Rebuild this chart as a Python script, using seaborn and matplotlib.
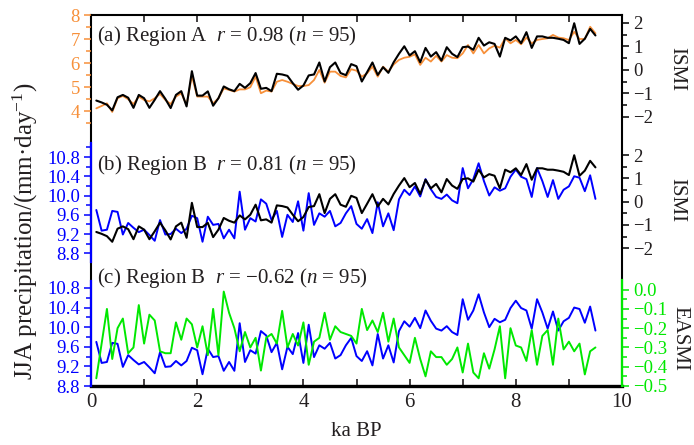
import numpy as np
import matplotlib
matplotlib.use("Agg")
import matplotlib.pyplot as plt
from matplotlib.ticker import FuncFormatter
import seaborn as sns

# ---- data: 95 samples, 0.1 to 9.5 ka BP ----
age = np.arange(1, 96) / 10.0

precip_a = [4.11, 4.21, 4.32, 3.96, 4.53, 4.63, 4.49, 4.29, 4.60, 4.46,
            4.40, 4.53, 4.71, 4.46, 4.29, 4.60, 4.74, 4.25, 5.46, 4.60,
            4.60, 4.60, 4.32, 4.53, 4.94, 4.88, 4.81, 4.90, 4.90, 4.99,
            5.43, 4.74, 4.85, 4.81, 5.22, 5.29, 5.22, 5.13, 5.04, 5.04,
            5.08, 5.29, 5.71, 5.18, 5.64, 5.64, 5.46, 5.40, 5.74, 5.68,
            5.43, 5.57, 5.85, 5.43, 5.85, 5.64, 5.94, 6.13, 6.22, 6.26,
            6.36, 5.92, 6.22, 6.06, 6.30, 6.06, 6.33, 6.22, 6.20, 6.40,
            6.75, 6.40, 6.75, 6.40, 6.61, 6.72, 6.64, 7.03, 6.82, 6.96,
            6.78, 7.06, 6.82, 6.96, 7.00, 7.03, 7.17, 7.06, 7.03, 6.96,
            7.30, 7.00, 7.00, 7.51, 7.24]

ismi = [-1.30, -1.38, -1.48, -1.72, -1.16, -1.06, -1.18, -1.61, -1.06, -1.20,
        -1.61, -1.27, -0.90, -1.23, -1.62, -1.06, -0.90, -1.55, -0.05, -1.09,
        -1.09, -0.91, -1.52, -1.20, -0.70, -0.82, -0.90, -0.59, -0.76, -0.56,
        -0.13, -0.80, -0.76, -0.90, -0.16, -0.19, -0.25, -0.56, -0.84, -0.66,
        -0.23, -0.19, 0.32, -0.49, 0.12, 0.32, -0.13, -0.22, 0.25, 0.16,
        -0.49, -0.09, 0.32, -0.21, 0.12, -0.12, 0.33, 0.69, 1.01, 0.62,
        0.80, 0.33, 0.94, 0.57, 0.76, 0.40, 0.97, 0.69, 0.55, 0.97,
        1.00, 0.86, 1.37, 1.04, 1.18, 1.11, 0.57, 1.37, 1.26, 1.43,
        1.14, 1.61, 0.94, 1.43, 1.43, 1.37, 1.37, 1.33, 1.28, 1.14,
        1.99, 1.11, 1.33, 1.75, 1.47]

precip_b = [9.70, 9.27, 9.29, 9.68, 9.66, 9.19, 9.43, 9.33, 9.24, 9.29,
            9.18, 9.06, 9.49, 9.19, 9.20, 9.31, 9.22, 9.31, 9.58, 9.53,
            9.04, 9.56, 9.39, 9.41, 9.11, 9.29, 9.11, 10.08, 9.29, 9.53,
            9.46, 9.92, 9.83, 9.49, 9.68, 9.14, 9.60, 9.45, 9.88, 9.27,
            10.05, 9.39, 9.63, 9.56, 9.68, 9.36, 9.43, 9.63, 9.78, 9.41,
            9.31, 9.51, 9.22, 9.86, 9.36, 9.63, 9.28, 9.92, 10.12, 10.01,
            10.19, 9.98, 10.34, 10.13, 9.97, 9.93, 10.02, 9.90, 9.84, 10.57,
            10.15, 10.34, 10.67, 10.30, 10.00, 10.17, 10.10, 10.15, 10.39, 10.54,
            10.39, 10.34, 9.97, 10.57, 10.30, 9.97, 10.32, 9.93, 10.12, 10.19,
            10.40, 10.37, 10.09, 10.42, 9.93]

easmi = [-0.46, -0.28, -0.10, -0.36, -0.20, -0.15, -0.33, -0.30, -0.08, -0.28,
         -0.13, -0.16, -0.32, -0.33, -0.33, -0.17, -0.26, -0.15, -0.18, -0.30,
         -0.19, -0.34, -0.10, -0.34, -0.01, -0.12, -0.20, -0.32, -0.22, -0.30,
         -0.25, -0.42, -0.25, -0.23, -0.28, -0.11, -0.30, -0.23, -0.29, -0.17,
         -0.39, -0.27, -0.25, -0.12, -0.26, -0.19, -0.22, -0.23, -0.24, -0.28,
         -0.10, -0.21, -0.16, -0.22, -0.12, -0.27, -0.15, -0.30, -0.34, -0.38,
         -0.25, -0.36, -0.45, -0.32, -0.35, -0.35, -0.39, -0.36, -0.30, -0.43,
         -0.28, -0.43, -0.46, -0.33, -0.41, -0.31, -0.19, -0.46, -0.20, -0.29,
         -0.30, -0.37, -0.21, -0.39, -0.24, -0.21, -0.39, -0.15, -0.31, -0.27,
         -0.32, -0.28, -0.44, -0.32, -0.30]

panel_titles = ["(a) Region A  $r$ = 0.98 ($n$ = 95)",
                "(b) Region B  $r$ = 0.81 ($n$ = 95)",
                "(c) Region B  $r$ = \u22120.62 ($n$ = 95)"]

# ---- style ----
sns.set_style("ticks")
plt.rcParams.update({
    "font.family": ["Liberation Serif", "DejaVu Serif"],
    "mathtext.fontset": "custom",
    "mathtext.rm": "Liberation Serif",
    "mathtext.it": "Liberation Serif:italic",
    "axes.unicode_minus": True,
})

TXT = "#231F20"
ORANGE = "#F7903A"
BLUE = "#0000FF"
GREEN = "#00E800"

W, H = 694, 445
fig = plt.figure(figsize=(W / 100, H / 100), dpi=100)

# frame in pixel units
X0, X1, YT, YB = 91, 622, 15, 386
rect = [X0 / W, 1 - YB / H, (X1 - X0) / W, (YB - YT) / H]


def lim_from(v_hi, y_hi, v_lo, y_lo):
    """y-limits so that value v_hi sits at pixel row y_hi and v_lo at y_lo."""
    per_px = (v_hi - v_lo) / (y_lo - y_hi)
    return v_lo - (YB - y_lo) * per_px, v_hi + (y_hi - YT) * per_px


def signed(fmt):
    return FuncFormatter(lambda v, _: (fmt % (0.0 if abs(v) < 1e-9 else v)).replace("-", "\u2212"))


base = fig.add_axes(rect)
base.set_xlim(0, 10)
base.set_yticks([])
base.set_xticks(range(0, 11, 2))
base.set_xticks(range(1, 11, 2), minor=True)
base.tick_params(axis="x", which="both", direction="in", top=True, bottom=True,
                 length=5, width=1.2, colors=TXT, labelsize=15, pad=5)
for side, lw in (("top", 1.5), ("bottom", 2.4), ("left", 1.5), ("right", 1.5)):
    base.spines[side].set_linewidth(lw)
    base.spines[side].set_color("black")


def overlay(side, lims, tick_color, label_color, major, minor, fmt,
            spine_color=None, bounds=None):
    ax = fig.add_axes(rect, sharex=base)
    ax.patch.set_visible(False)
    for s in ax.spines.values():
        s.set_visible(False)
    if spine_color is not None:
        sp = ax.spines[side]
        sp.set_visible(True)
        sp.set_color(spine_color)
        sp.set_linewidth(1.6)
        sp.set_bounds(*bounds)
        sp.set_zorder(5)
    ax.set_ylim(*lims)
    ax.yaxis.set_ticks_position(side)
    ax.set_yticks(major)
    ax.set_yticks(minor, minor=True)
    ax.yaxis.set_major_formatter(fmt)
    ax.tick_params(axis="x", which="both", bottom=False, top=False,
                   labelbottom=False, labeltop=False)
    ax.tick_params(axis="y", which="major", direction="out", length=5, width=1.1,
                   color=tick_color, labelcolor=label_color, labelsize=13.5, pad=3)
    ax.tick_params(axis="y", which="minor", direction="out", length=3.5, width=1.1,
                   color=tick_color)
    return ax


# panel (a)
a_left = overlay("left", lim_from(8, 15, 4, 111), ORANGE, ORANGE,
                 [4, 5, 6, 7, 8], [3.5, 4.5, 5.5, 6.5, 7.5], signed("%d"))
a_right = overlay("right", lim_from(2, 23, -2, 117), "black", TXT,
                  [-2, -1, 0, 1, 2], [-1.5, -0.5, 0.5, 1.5], signed("%d"))
sns.lineplot(x=age, y=precip_a, ax=a_left, color=ORANGE, lw=1.3)
sns.lineplot(x=age, y=ismi, ax=a_right, color="black", lw=1.5)

# panel (b)
b_lims = lim_from(10.8, 157, 8.8, 253.3)
b_left = overlay("left", b_lims, BLUE, BLUE,
                 [8.8, 9.2, 9.6, 10.0, 10.4, 10.8], [9.0, 9.4, 9.8, 10.2, 10.6, 11.0],
                 signed("%.1f"), spine_color=BLUE, bounds=(8.62, 11.1))
b_right = overlay("right", lim_from(2, 155, -2, 248.3), "black", TXT,
                  [-2, -1, 0, 1, 2], [-1.5, -0.5, 0.5, 1.5], signed("%d"))
sns.lineplot(x=age, y=precip_b, ax=b_left, color=BLUE, lw=1.4)
sns.lineplot(x=age, y=ismi, ax=b_right, color="black", lw=1.5)

# panel (c)
c_left = overlay("left", lim_from(10.8, 288.3, 8.8, 386.5), BLUE, BLUE,
                 [8.8, 9.2, 9.6, 10.0, 10.4, 10.8], [9.0, 9.4, 9.8, 10.2, 10.6],
                 signed("%.1f"), spine_color=BLUE, bounds=(8.8, 10.95))
c_right = overlay("right", lim_from(0.0, 290, -0.5, 386.5), GREEN, GREEN,
                  [-0.5, -0.4, -0.3, -0.2, -0.1, 0.0],
                  [-0.45, -0.35, -0.25, -0.15, -0.05],
                  signed("%.1f"), spine_color=GREEN, bounds=(-0.5, 0.05))
sns.lineplot(x=age, y=precip_b, ax=c_left, color=BLUE, lw=1.4)
sns.lineplot(x=age, y=easmi, ax=c_right, color=GREEN, lw=1.4)

for ax in (a_left, a_right, b_left, b_right, c_left, c_right):
    ax.set_xlabel("")
    ax.set_ylabel("")
base.set_xlim(0, 10)

# panel captions
for title, yc in zip(panel_titles, (36.5, 165, 278)):
    fig.text(97 / W, 1 - yc / H, title, ha="left", va="center",
             fontsize=15, color=TXT)

# axis titles
fig.text(356.5 / W, 1 - 431 / H, "ka BP", ha="center", va="center",
         fontsize=15, color=TXT)
fig.text(25 / W, 1 - 231 / H, "JJA precipitation/(mm\u00b7day$^{\u22121}$)",
         rotation=90, ha="center", va="center", fontsize=18, color=TXT)
for label, (xc, yc) in (("ISMI", (677, 69)), ("ISMI", (677, 200)),
                        ("EASMI", (680, 338))):
    fig.text(xc / W, 1 - yc / H, label, rotation=-90, ha="center", va="center",
             fontsize=15, color=TXT)

fig.savefig("out.png", dpi=100)
